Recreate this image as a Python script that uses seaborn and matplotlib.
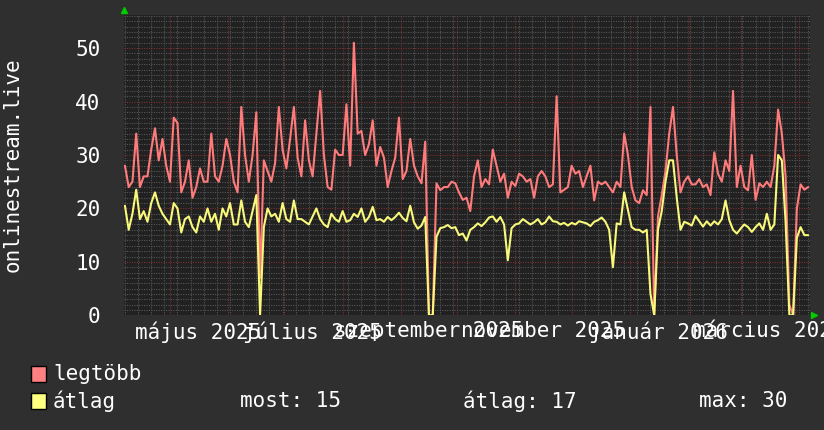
import pandas as pd
import seaborn as sns
import matplotlib.pyplot as plt
import matplotlib.dates as mdates
from matplotlib.patches import Rectangle
from matplotlib.ticker import MultipleLocator, NullFormatter

# napi adatok, 2 naponta (2025-04-07 -> 2026-04-06)
start = "2025-04-07"
legtobb = [
    28, 24, 25, 34, 24, 26, 26, 31, 35, 29,
    33, 28, 25, 37, 36, 23, 25, 29, 22, 24,
    27.5, 25, 25, 34, 26, 25, 28, 33, 30, 25,
    23, 39, 30, 25, 30, 38, 7, 29, 27, 25,
    28.5, 39, 31, 27.5, 33, 39, 29.5, 26, 36.5, 29,
    26, 34, 42, 30, 24, 23.5, 31, 30, 30, 39.5,
    28, 51, 34, 34.5, 30, 32, 36.5, 28, 31.5, 29.5,
    24, 27, 29.5, 37, 25.5, 27, 33, 28, 26, 24.7,
    32.5, 0, 0, 24.7, 23.4, 24, 24, 25, 24.7, 23,
    21.6, 22, 19.5, 26, 29, 24, 25.5, 24.5, 31, 28,
    25, 26.5, 22, 25, 24.2, 26.5, 26, 25, 25.5, 22,
    26, 27, 26, 24, 24.5, 41, 23, 23.5, 24, 28,
    26.5, 27, 24, 26, 28, 21.5, 25, 24.5, 25, 24,
    23, 25, 24, 34, 30, 24, 21.5, 21, 23.4, 22.5,
    39, 0, 18.5, 22.5, 27, 34, 39, 30, 23, 25,
    26, 24.5, 24.5, 25.5, 24, 24.5, 22.5, 30.5, 26.5, 25,
    29, 27, 42, 24, 28, 24, 23.4, 30, 21.6, 24.7,
    24, 25, 24, 28, 38.5, 34, 26, 2, 0, 20,
    24.5, 23.5, 24,
]
atlag = [
    20.5, 16, 19, 23.5, 18, 19.5, 17.5, 21, 23, 20.5,
    19, 18, 17, 21, 20, 15.5, 18, 18.5, 16.5, 15.5,
    18.5, 17.5, 20, 17.5, 19, 16, 20, 18.5, 21, 17,
    17, 21.5, 17.5, 16.5, 19.5, 22.5, 0, 16.5, 20, 18.5,
    19, 17.5, 21, 18, 17.5, 21.5, 18, 18, 17.5, 17,
    18.5, 20, 18, 17, 16.5, 19, 18, 17.5, 19.5, 17.5,
    17.8, 19, 18.4, 20, 17.5, 18.4, 20.3, 17.8, 18, 17.5,
    18.4, 17.8, 18.4, 19.2, 18.2, 17.6, 20.5, 17.4, 16.2, 16.8,
    18.4, 0, 0, 14.7, 16.3, 16.5, 16.9, 16.3, 16.5, 15,
    15.3, 14, 16, 16.5, 17.2, 16.7, 17.4, 18.3, 18.5, 17.5,
    18.4, 17, 10.3, 16.3, 17, 17.2, 18, 17.5, 17, 17.4,
    18, 17, 17.4, 18.5, 17.6, 17.5, 17, 17.3, 16.8, 17.3,
    17, 17.6, 17.4, 17.2, 16.7, 17.5, 17.8, 18.3, 17.5, 16,
    9, 17.2, 17, 23, 19.7, 16.5, 16, 16, 15.5, 16,
    4, 0, 16, 19.5, 25, 29, 29, 22, 16, 17.5,
    17.2, 16.8, 18.6, 17.6, 16.6, 17.6, 16.8, 17.6, 17, 18,
    21.5, 17.8, 16, 15.3, 16.2, 17, 16.5, 15.6, 16.5, 17.2,
    16, 19, 16, 17, 30, 29, 17.5, 0, 0, 14.5,
    16.5, 15, 15,
]
month_labels = ["május 2025", "július 2025", "szeptember 2025",
                "november 2025", "január 2026", "március 2026"]
label_dates = ["2025-05-16", "2025-07-16", "2025-09-16",
               "2025-11-16", "2026-01-16", "2026-03-16"]
y_title = "onlinestream.live"
stats = ["most: 15", "átlag: 17", "max: 30"]

dates = pd.date_range(start, periods=len(legtobb), freq="2D")
df = pd.DataFrame({"datum": dates, "legtöbb": legtobb, "átlag": atlag})

red = "#ff7b7b"
yellow = "#f8f87a"

sns.set_theme(style="dark", rc={
    "figure.facecolor": "#2f2f2f",
    "axes.facecolor": "#212121",
    "text.color": "white",
    "ytick.color": "white",
    "xtick.color": "white",
})
plt.rcParams["font.family"] = ["DejaVu Sans Mono", "DejaVu Sans"]

W, H = 824, 430
fig = plt.figure(figsize=(W / 100, H / 100), dpi=100)
ax = fig.add_axes([124 / W, 1 - 315.3 / H, 686 / W, 300.3 / H])

sns.lineplot(data=df, x="datum", y="legtöbb", ax=ax, color=red, linewidth=1.5)
sns.lineplot(data=df, x="datum", y="átlag", ax=ax, color=yellow, linewidth=1.5)

ax.set_xlim(pd.Timestamp("2025-04-06 12:00"), pd.Timestamp("2026-04-07"))
ax.set_ylim(0, 56.2)
ax.set_xlabel("")
ax.set_ylabel("")

ax.xaxis.set_major_locator(mdates.MonthLocator())
ax.xaxis.set_minor_locator(mdates.WeekdayLocator(byweekday=mdates.MO))
ax.xaxis.set_major_formatter(NullFormatter())
ax.yaxis.set_major_locator(MultipleLocator(10))
ax.yaxis.set_minor_locator(MultipleLocator(1))
ax.grid(which="minor", color="#565656", ls=(0, (1, 1.2)), lw=0.8)
ax.grid(which="major", color="#7a2e2e", ls=(0, (1, 1.2)), lw=0.8)
ax.set_axisbelow(True)
ax.tick_params(axis="both", which="both", length=0)
ax.tick_params(axis="y", pad=17, labelsize=15)
for s in ax.spines.values():
    s.set_visible(False)

for lab, d in zip(month_labels, label_dates):
    ax.text(pd.Timestamp(d), -0.02, lab, transform=ax.get_xaxis_transform(),
            ha="center", va="top", fontsize=15, color="white", clip_on=False)

fig.text(13 / W, 1 - 165 / H, y_title, rotation=90, ha="center", va="center",
         fontsize=15, color="white")

# zöld nyilak
fig.lines.append(plt.Line2D([124 / W], [1 - 10 / H], marker="^", ms=5, color="#00cc00",
                            transform=fig.transFigure))
fig.lines.append(plt.Line2D([814 / W], [1 - 315 / H], marker=">", ms=5, color="#00cc00",
                            transform=fig.transFigure))

# jelmagyarázat
for (col, name, yc) in [(red, "legtöbb", 374), (yellow, "átlag", 401)]:
    fig.patches.append(Rectangle((31 / W, 1 - (yc + 8) / H), 15 / W, 16 / H,
                                 transform=fig.transFigure, fc=col, ec="black", lw=1))
    fig.text(53 / W, 1 - yc / H, name, ha="left", va="center", fontsize=15, color="white")
fig.patches[0].set_facecolor("#ff8080")
fig.patches[1].set_facecolor("#ffff80")

for txt, xp in zip(stats, [240, 463, 699]):
    fig.text(xp / W, 1 - 401 / H, txt, ha="left", va="center", fontsize=15, color="white")

fig.savefig("out.png", dpi=100, facecolor=fig.get_facecolor())
